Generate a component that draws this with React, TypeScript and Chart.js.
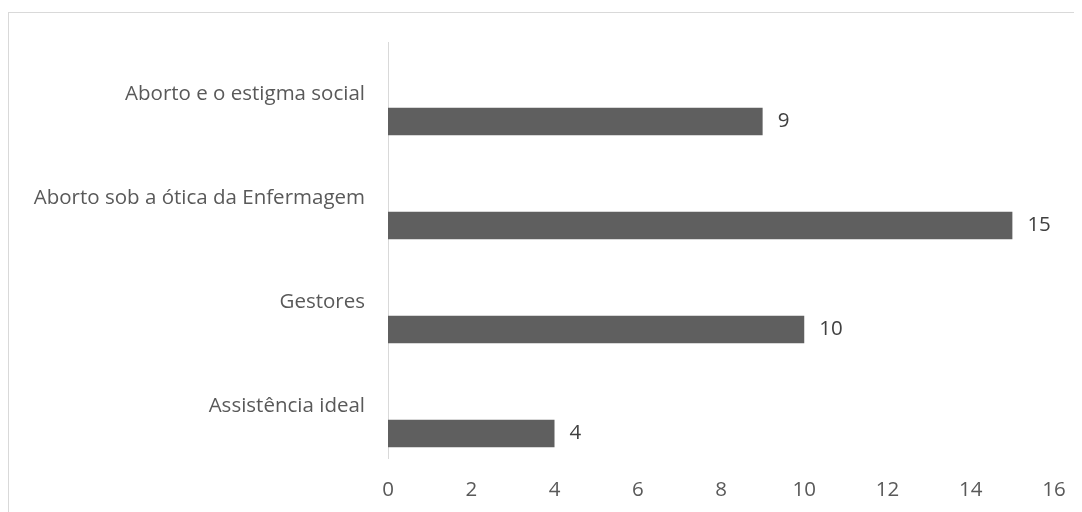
import React, { useEffect, useRef } from "react";
import { Chart, registerables } from "chart.js";

Chart.register(...registerables);

const categories = [
  "Aborto e o estigma social",
  "Aborto sob a ótica da Enfermagem",
  "Gestores",
  "Assistência ideal",
];
const values = [9, 15, 10, 4];
const spacer = [null, null, null, null];
const xMin = 0;
const xMax = 16;
const xStep = 2;

const FONT = "'Open Sans', sans-serif";
const FSIZE = 20.5;
const TEXT = "#595959";

const valueLabels = {
  id: "valueLabels",
  afterDatasetsDraw(chart: any) {
    const ctx = chart.ctx;
    const meta = chart.getDatasetMeta(1);
    ctx.save();
    ctx.font = `${FSIZE}px ${FONT}`;
    ctx.fillStyle = "#404040";
    ctx.textAlign = "left";
    ctx.textBaseline = "middle";
    meta.data.forEach((bar: any, i: number) => {
      const v = chart.data.datasets[1].data[i];
      ctx.fillText(String(v), bar.x + 15, bar.y);
    });
    ctx.restore();
  },
};

export default function App() {
  const ref = useRef<HTMLCanvasElement | null>(null);
  useEffect(() => {
    document.documentElement.style.overflow = "hidden";
    document.body.style.overflow = "hidden";
    if (!ref.current) return;
    const chart = new Chart(ref.current, {
      type: "bar",
      data: {
        labels: categories,
        datasets: [
          { label: "spacer", data: spacer, backgroundColor: "transparent" },
          {
            label: "Série",
            data: values,
            backgroundColor: "#5f5f5f",
            borderWidth: 0,
          },
        ],
      },
      options: {
        indexAxis: "y",
        animation: false,
        responsive: false,
        maintainAspectRatio: false,
        categoryPercentage: 1.06,
        barPercentage: 0.5,
        layout: { padding: { top: 29, right: 28, left: 0, bottom: 0 } },
        plugins: {
          legend: { display: false },
          tooltip: { enabled: false },
        },
        scales: {
          x: {
            min: xMin,
            max: xMax,
            grid: { display: false, drawTicks: false },
            border: { display: false },
            ticks: {
              stepSize: xStep,
              color: TEXT,
              padding: 20,
              font: { family: FONT, size: FSIZE },
            },
            afterFit(scale: any) {
              scale.height = 54;
              scale.paddingLeft = 0;
              scale.paddingRight = 0;
            },
          },
          y: {
            grid: { display: false, drawTicks: false },
            border: { display: true, color: "#d9d9d9", width: 1 },
            ticks: {
              color: TEXT,
              padding: 23,
              font: { family: FONT, size: FSIZE },
            },
            afterFit(scale: any) {
              scale.width = 379;
              scale.paddingTop = 0;
              scale.paddingBottom = 0;
            },
          },
        },
      },
      plugins: [valueLabels],
    });
    return () => chart.destroy();
  }, []);
  return (
    <div
      style={{
        marginTop: 4,
        width: 1073,
        height: 499,
        borderTop: "1px solid #d9d9d9",
        borderLeft: "1px solid #d9d9d9",
        background: "#fff",
      }}
    >
      <canvas ref={ref} width={1073} height={499} style={{ display: "block" }} />
    </div>
  );
}
